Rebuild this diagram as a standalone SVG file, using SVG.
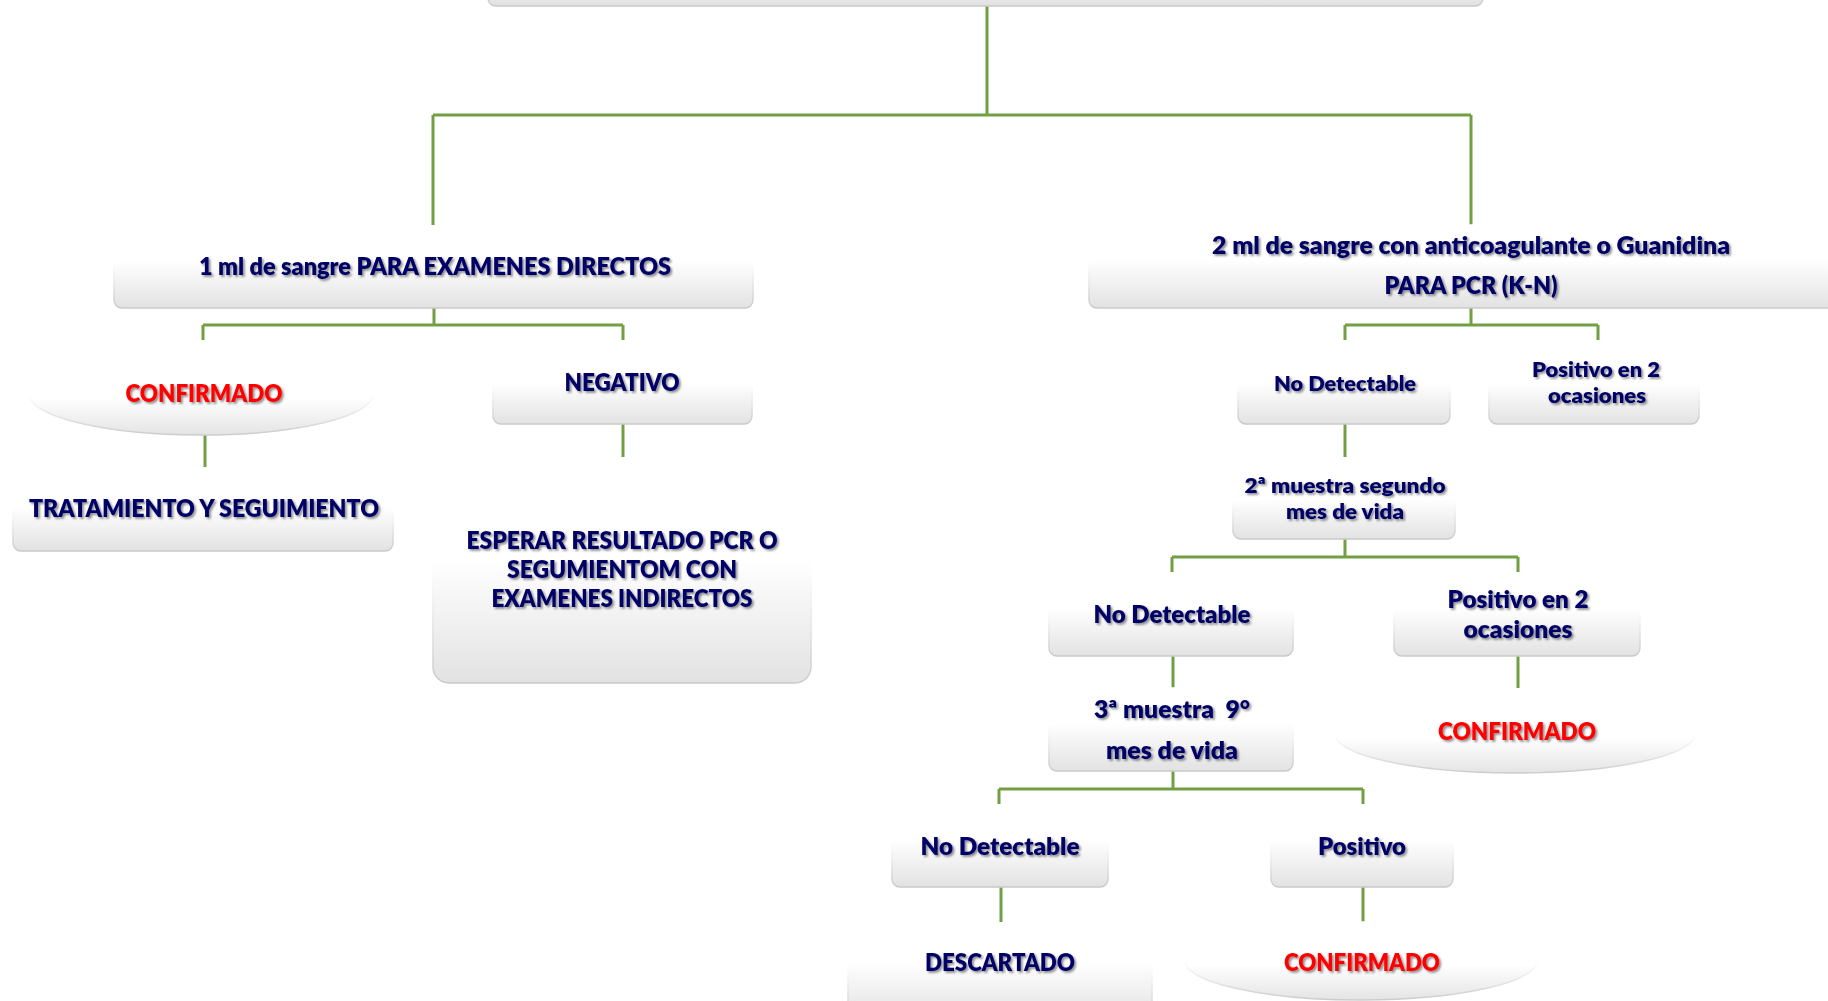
<svg xmlns="http://www.w3.org/2000/svg" width="1828" height="1001" viewBox="0 0 1828 1001">
<defs>
<linearGradient id="gBox" x1="0" y1="0" x2="0" y2="1">
<stop offset="0" stop-color="#ffffff"/>
<stop offset="0.42" stop-color="#ffffff"/>
<stop offset="1" stop-color="#e2e2e2"/>
</linearGradient>
<linearGradient id="gEdge" x1="0" y1="0" x2="0" y2="1">
<stop offset="0" stop-color="#ffffff"/>
<stop offset="0.45" stop-color="#ffffff"/>
<stop offset="1" stop-color="#c9c9c9"/>
</linearGradient>
<linearGradient id="gEll" x1="0" y1="0" x2="0" y2="1">
<stop offset="0" stop-color="#ffffff"/>
<stop offset="0.55" stop-color="#ffffff"/>
<stop offset="1" stop-color="#e4e4e4"/>
</linearGradient>
<linearGradient id="gEllEdge" x1="0" y1="0" x2="0" y2="1">
<stop offset="0" stop-color="#ffffff"/>
<stop offset="0.5" stop-color="#ffffff"/>
<stop offset="1" stop-color="#cccccc"/>
</linearGradient>
<filter id="tsh" x="-5%" y="-30%" width="110%" height="160%">
<feDropShadow dx="1.8" dy="1.8" stdDeviation="1.1" flood-color="#000" flood-opacity="0.45"/>
</filter>
</defs>
<style>
.box{fill:url(#gBox);stroke:url(#gEdge);stroke-width:1.5}
.ell{fill:url(#gEll);stroke:url(#gEllEdge);stroke-width:1.5}
.con{fill:none;stroke:#71a043;stroke-width:3}
text{font-family:Lato,"Liberation Sans",sans-serif;font-weight:800;text-anchor:middle;filter:url(#tsh)}
.n{fill:#000066;font-size:24px}
.s{fill:#000066;font-size:21.5px}
.r{fill:#ff0000;font-size:24px}
</style>
<rect width="1828" height="1001" fill="#ffffff"/>

<g id="connectors">
<path class="con" d="M987,6 V115 M433,115 H1471 M433,115 V225 M1471,115 V225"/>
<path class="con" d="M434,308 V325 M203,325 H623 M203,325 V340 M623,325 V340"/>
<path class="con" d="M205,435 V467"/>
<path class="con" d="M623,424 V457"/>
<path class="con" d="M1471,308 V325 M1345,325 H1598 M1345,325 V340 M1598,325 V340"/>
<path class="con" d="M1345,424 V457"/>
<path class="con" d="M1345,539 V557 M1172,557 H1518 M1172,557 V572 M1518,557 V572"/>
<path class="con" d="M1173,656 V688 M1518,656 V688"/>
<path class="con" d="M1173,771 V789 M999,789 H1363 M999,789 V804 M1363,789 V804"/>
<path class="con" d="M1001,887 V922 M1363,887 V922"/>
</g>

<g id="root"><rect class="box" x="488" y="-80" width="995" height="86" rx="8"/></g>

<g id="n1ml">
<rect class="box" x="114" y="227" width="639" height="81" rx="8"/>
<text class="n" x="435" y="275" textLength="472" lengthAdjust="spacingAndGlyphs">1 ml de sangre PARA EXAMENES DIRECTOS</text>
</g>

<g id="n2ml">
<rect class="box" x="1089" y="225" width="760" height="83" rx="8"/>
<text class="n" x="1471" y="254" textLength="518" lengthAdjust="spacingAndGlyphs">2 ml de sangre con anticoagulante o Guanidina</text>
<text class="n" x="1471" y="294" textLength="173" lengthAdjust="spacingAndGlyphs">PARA PCR (K-N)</text>
</g>

<g id="confL">
<ellipse class="ell" cx="201" cy="394" rx="172" ry="41"/>
<text class="r" x="204" y="402" textLength="157" lengthAdjust="spacingAndGlyphs">CONFIRMADO</text>
</g>

<g id="negativo">
<rect class="box" x="493" y="353" width="259" height="71" rx="8"/>
<text class="n" x="622" y="391" textLength="115" lengthAdjust="spacingAndGlyphs">NEGATIVO</text>
</g>

<g id="tratamiento">
<rect class="box" x="13" y="475" width="380" height="76" rx="8"/>
<text class="n" x="204" y="517" textLength="350" lengthAdjust="spacingAndGlyphs">TRATAMIENTO Y SEGUIMIENTO</text>
</g>

<g id="esperar">
<rect class="box" x="433" y="470" width="378" height="213" rx="16"/>
<text class="n" x="622" y="549" textLength="311" lengthAdjust="spacingAndGlyphs">ESPERAR RESULTADO PCR O</text>
<text class="n" x="622" y="578" textLength="230" lengthAdjust="spacingAndGlyphs">SEGUMIENTOM CON</text>
<text class="n" x="622" y="607" textLength="261" lengthAdjust="spacingAndGlyphs">EXAMENES INDIRECTOS</text>
</g>

<g id="nodet1">
<rect class="box" x="1238" y="353" width="212" height="71" rx="8"/>
<text class="s" x="1345" y="391" textLength="142" lengthAdjust="spacingAndGlyphs">No Detectable</text>
</g>

<g id="pos1">
<rect class="box" x="1489" y="353" width="210" height="71" rx="8"/>
<text class="s" x="1596" y="377" textLength="128" lengthAdjust="spacingAndGlyphs">Positivo en 2</text>
<text class="s" x="1597" y="403" textLength="98" lengthAdjust="spacingAndGlyphs">ocasiones</text>
</g>

<g id="muestra2">
<rect class="box" x="1233" y="470" width="222" height="69" rx="8"/>
<text class="s" x="1345" y="493" textLength="201" lengthAdjust="spacingAndGlyphs">2ª muestra segundo</text>
<text class="s" x="1345" y="519" textLength="118" lengthAdjust="spacingAndGlyphs">mes de vida</text>
</g>

<g id="nodet2">
<rect class="box" x="1049" y="573" width="244" height="83" rx="8"/>
<text class="n" x="1172" y="623" textLength="157" lengthAdjust="spacingAndGlyphs">No Detectable</text>
</g>

<g id="pos2">
<rect class="box" x="1394" y="573" width="246" height="83" rx="8"/>
<text class="n" x="1518" y="608" textLength="141" lengthAdjust="spacingAndGlyphs">Positivo en 2</text>
<text class="n" x="1518" y="638" textLength="109" lengthAdjust="spacingAndGlyphs">ocasiones</text>
</g>

<g id="muestra3">
<rect class="box" x="1049" y="688" width="244" height="83" rx="8"/>
<text class="n" x="1172" y="718" textLength="156" lengthAdjust="spacingAndGlyphs" xml:space="preserve">3ª muestra  9°</text>
<text class="n" x="1172" y="759" textLength="132" lengthAdjust="spacingAndGlyphs">mes de vida</text>
</g>

<g id="conf2">
<ellipse class="ell" cx="1515" cy="734" rx="180" ry="39"/>
<text class="r" x="1517" y="740" textLength="158" lengthAdjust="spacingAndGlyphs">CONFIRMADO</text>
</g>

<g id="nodet3">
<rect class="box" x="892" y="805" width="216" height="82" rx="8"/>
<text class="n" x="1000" y="855" textLength="159" lengthAdjust="spacingAndGlyphs">No Detectable</text>
</g>

<g id="pos3">
<rect class="box" x="1271" y="805" width="182" height="82" rx="8"/>
<text class="n" x="1362" y="855" textLength="88" lengthAdjust="spacingAndGlyphs">Positivo</text>
</g>

<g id="descartado">
<rect class="box" x="848" y="923" width="304" height="95" rx="8"/>
<text class="n" x="1000" y="971" textLength="150" lengthAdjust="spacingAndGlyphs">DESCARTADO</text>
</g>

<g id="conf3">
<ellipse class="ell" cx="1361" cy="961" rx="176" ry="39"/>
<text class="r" x="1362" y="971" textLength="156" lengthAdjust="spacingAndGlyphs">CONFIRMADO</text>
</g>
</svg>
